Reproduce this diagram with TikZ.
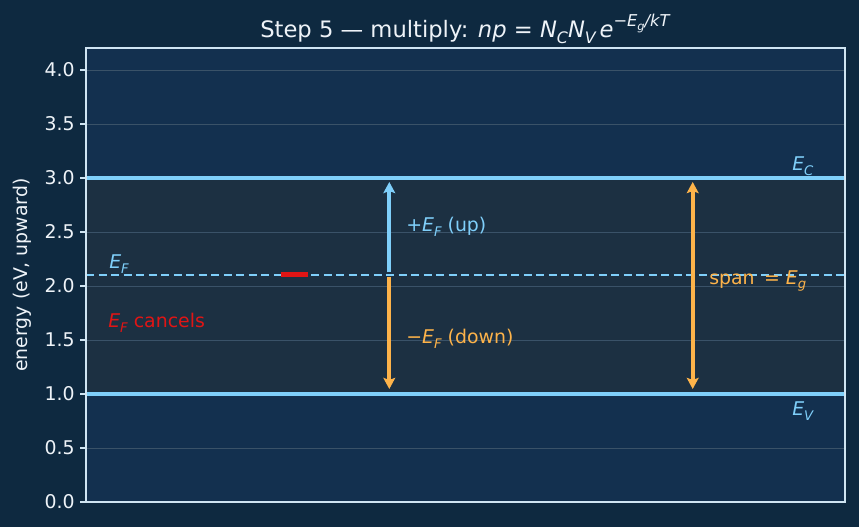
\documentclass[tikz,border=0pt]{standalone}
\usepackage{fontspec}
\setmainfont{DejaVu Sans}
\usetikzlibrary{arrows.meta}
\definecolor{figbg}{HTML}{0E2940}
\definecolor{axbg}{HTML}{13304F}
\definecolor{bandbg}{HTML}{1C3042}
\definecolor{lblue}{HTML}{7FCFFA}
\definecolor{orng}{HTML}{FDB34A}
\definecolor{redc}{HTML}{E01515}
\definecolor{frame}{HTML}{CFE4F2}
\definecolor{txt}{HTML}{EEF3F8}
\definecolor{gridc}{HTML}{3A5268}
\newcommand{\ital}[1]{\textit{#1}}
\newcommand{\sub}[1]{\raisebox{-0.25em}{\scalebox{0.7}{\itshape #1}}}
\newcommand{\EF}{\ital{E}\sub{F}}
\tikzset{
  lbl/.style={font=\fontsize{13.6pt}{16pt}\selectfont, inner sep=0pt, anchor=west},
  tick/.style={font=\fontsize{13.6pt}{16pt}\selectfont, text=txt, inner sep=0pt, anchor=east},
  arr/.style={line width=2.6pt, {Stealth[length=8pt,width=8.5pt,inset=1.5pt]}-{Stealth[length=8pt,width=8.5pt,inset=1.5pt]}},
  uparr/.style={line width=2.6pt, -{Stealth[length=8pt,width=8.5pt,inset=1.5pt]}},
}
\begin{document}
\begin{tikzpicture}[x=0.72pt,y=-0.72pt]
\useasboundingbox (0,0) rectangle (859,527);
\fill[figbg] (0,0) rectangle (859,527);
% axes background
\fill[axbg] (86,48) rectangle (845,502);
% band
\fill[bandbg] (86,178) rectangle (845,394);
% grid
\foreach \v in {0.5,1.0,...,4.0} {
  \draw[gridc, line width=0.7pt] (86,{502-108*\v}) -- (845,{502-108*\v});
}
% ticks and tick labels
\foreach \v/\t in {0/0.0,0.5/0.5,1/1.0,1.5/1.5,2/2.0,2.5/2.5,3/3.0,3.5/3.5,4/4.0} {
  \draw[frame, line width=1pt] (80,{502-108*\v}) -- (86,{502-108*\v});
  \node[tick] (t\t) at (75,{502-108*\v}) {\t};
}
% band edges
\draw[lblue, line width=2.7pt] (86,178) -- (845,178);
\draw[lblue, line width=2.7pt] (86,394) -- (845,394);
% Fermi level dashed
\draw[lblue, line width=1.8pt, dash pattern=on 6pt off 3pt] (86,275.2) -- (845,275.2);
% red segment
\draw[redc, line width=3pt] (281,274.5) -- (308,274.5);
% frame
\draw[frame, line width=1pt] (86,48) rectangle (845,502);
% arrows
\coordinate (ua) at (389.3,272.5);
\coordinate (ub) at (389.3,182);
\coordinate (da) at (389.3,277.5);
\coordinate (db) at (389.3,389);
\coordinate (sa) at (692.7,182);
\coordinate (sb) at (692.7,389);
\draw[uparr, lblue] (ua) -- (ub);
\draw[uparr, orng] (da) -- (db);
\draw[arr, orng] (sa) -- (sb);
% labels
\node[lbl, text=lblue] (lup) at (406,227) {+\EF{} (up)};
\node[lbl, text=orng] (ldown) at (406,339) {−\EF{} (down)};
\node[lbl, text=lblue] (lef) at (109,264) {\EF};
\node[lbl, text=redc] (lcan) at (108,323) {\EF{} cancels};
\node[lbl, text=orng] (lspan) at (709,281) {span\enspace= \ital{E}\sub{g}};
\node[lbl, text=lblue] (lec) at (792,166) {\ital{E}\sub{C}};
\node[lbl, text=lblue] (lev) at (792,411) {\ital{E}\sub{V}};
% y label
\node[text=txt, rotate=90, inner sep=0pt, font=\fontsize{13.6pt}{16pt}\selectfont] (ylab) at (22,275) {energy (eV, upward)};
% title
\node[text=txt, inner sep=0pt, font=\fontsize{16.3pt}{19pt}\selectfont] (title) at (465.5,29) {Step 5 — multiply: \ital{np} = \ital{N}\sub{C}\ital{N}\sub{V}\,\ital{e}\raisebox{0.5em}{\scalebox{0.72}{−\ital{E}\sub{g}\ital{/kT}}}};
\end{tikzpicture}
\end{document}
